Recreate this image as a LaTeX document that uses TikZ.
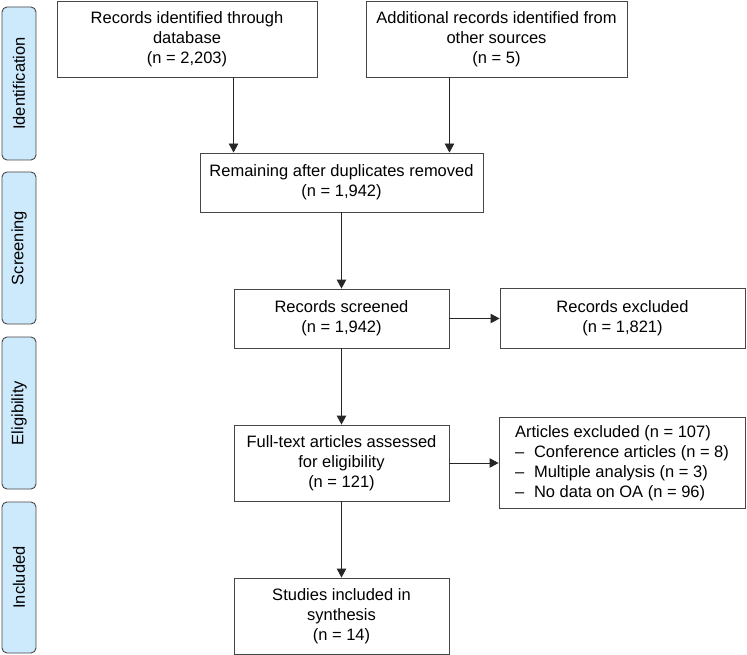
\documentclass[tikz,border=0pt]{standalone}
\usepackage{fontspec}
\setmainfont{Liberation Sans}
\usetikzlibrary{arrows.meta}
\definecolor{tabblue}{RGB}{205,233,252}
\definecolor{edgegray}{RGB}{70,70,70}

\begin{document}
\begin{tikzpicture}[x=1pt, y=-1pt,
    every node/.style={font=\fontsize{16.5}{20}\selectfont, inner sep=0pt},
    box/.style={draw=edgegray, line width=0.9pt, align=center},
    tab/.style={draw=edgegray, line width=0.9pt, fill=tabblue, rounded corners=5pt,
        minimum width=34, rotate=90},
    arr/.style={-{Triangle[length=9pt,width=9.5pt]}, line width=0.9pt, black!85}]
        \useasboundingbox (0,0) rectangle (747,655);

        % Phase tabs
        \node[tab, minimum width=153, minimum height=34] (tabid) at (19,83.5) {Identification};
        \node[tab, minimum width=152, minimum height=34] (tabsc) at (19,248) {Screening};
        \node[tab, minimum width=152, minimum height=34] (tabel) at (19,413) {Eligibility};
        \node[tab, minimum width=151, minimum height=34] (tabin) at (19,577.5) {Included};

        % Identification
        \node[box, minimum width=260, minimum height=76] (db) at (187,39)
            {Records identified through\\database\\(n = 2,203)};
        \node[box, minimum width=261, minimum height=76] (other) at (496.5,39)
            {Additional records identified from\\other sources\\(n = 5)};
        \node[box, minimum width=283, minimum height=59] (dup) at (341.5,182.5)
            {Remaining after duplicates removed\\(n = 1,942)};

        % Screening
        \node[box, minimum width=215, minimum height=59] (screen) at (341.5,318.5)
            {Records screened\\(n = 1,942)};
        \node[box, minimum width=245, minimum height=60] (excl) at (622.5,318.5)
            {Records excluded\\(n = 1,821)};

        % Eligibility
        \node[box, minimum width=215, minimum height=76] (full) at (341.5,463)
            {Full-text articles assessed\\for eligibility\\(n = 121)};
        \node[box, minimum width=246, minimum height=91, align=left] (artex) at (622,463)
            {Articles excluded (n = 107)\\
             \makebox[19pt][l]{–}Conference articles (n = 8)\\
             \makebox[19pt][l]{–}Multiple analysis (n = 3)\\
             \makebox[19pt][l]{–}No data on OA (n = 96)};

        % Included
        \node[box, minimum width=215, minimum height=76] (incl) at (341.5,616)
            {Studies included in\\synthesis\\(n = 14)};

        % Connections
        \draw[arr] (screen.west |- db.south) -- (screen.west |- dup.north);
        \draw[arr] (screen.east |- other.south) -- (screen.east |- dup.north);
        \draw[arr] (dup.south) -- (screen.north);
        \draw[arr] (screen.east) -- (screen.east -| excl.west);
        \draw[arr] (screen.south) -- (full.north);
        \draw[arr] (full.east) -- (full.east -| artex.west);
        \draw[arr] (full.south) -- (incl.north);
    \end{tikzpicture}
\end{document}
